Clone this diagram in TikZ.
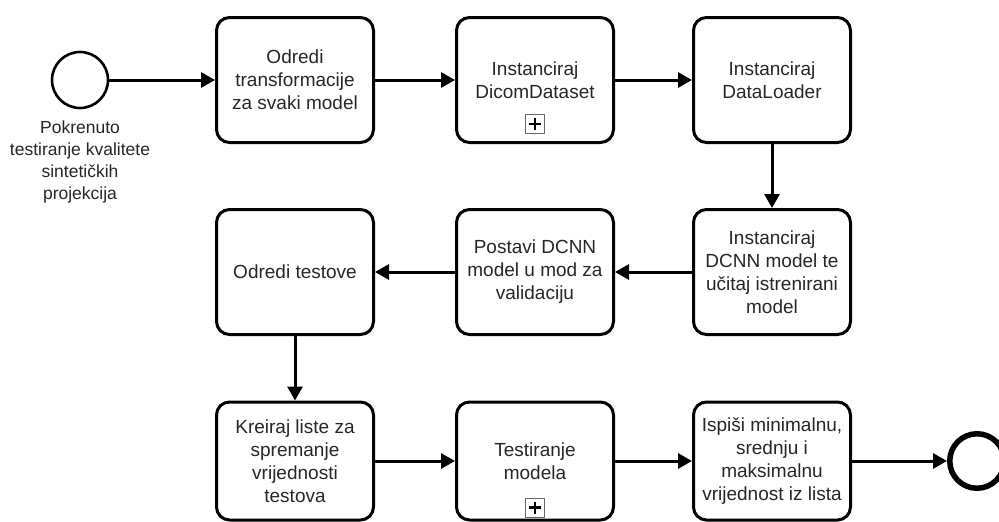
\documentclass[tikz,border=0pt]{standalone}
\usepackage{fontspec}
\setmainfont{Liberation Sans}
\usetikzlibrary{arrows.meta}

\newcommand{\tasktext}{\fontsize{19}{23}\selectfont}
\newcommand{\lbltext}{\fontsize{17.5}{21.7}\selectfont}

\tikzset{
  task/.style={draw,rectangle,rounded corners=13pt,line width=3pt,minimum width=157pt,minimum height=125pt,align=center,font=\tasktext,text=black!85,inner sep=2pt},
  flow/.style={-{Triangle[length=14pt,width=15pt]},line width=3pt},
  startev/.style={draw,circle,line width=2.6pt,minimum size=56pt,inner sep=0pt},
  endev/.style={draw,circle,line width=5.5pt,minimum size=54.5pt,inner sep=0pt},
  lbl/.style={align=center,font=\lbltext,text=black!85},
  subproc/.style={draw=black!60,line width=0.8pt,minimum size=19pt,inner sep=0pt,
    path picture={
      \draw[line width=2.4pt,black] ([xshift=-6pt]path picture bounding box.center) -- ([xshift=6pt]path picture bounding box.center);
      \draw[line width=2.4pt,black] ([yshift=-6pt]path picture bounding box.center) -- ([yshift=6pt]path picture bounding box.center);
    }}
}

\begin{document}
\begin{tikzpicture}[x=1pt,y=-1pt]
\useasboundingbox (0,0) rectangle (999,522);

% start
\node[startev] (st) at (80,80) {};
\node[lbl] (stl) at (80,162) {Pokrenuto\\testiranje kvalitete\\sintetičkih\\projekcija};

% row 1
\node[task] (t1) at (295,80) {Odredi\\transformacije\\za svaki model};
\node[task] (t2) at (535,80) {Instanciraj\\DicomDataset};
\node[task] (t3) at (772,80) {Instanciraj\\DataLoader};
\node[subproc] (p2) at ([yshift=20pt]t2.south) {};

% row 2
\node[task] (t4) at (772,272) {Instanciraj\\DCNN model te\\učitaj istrenirani\\model};
\node[task] (t5) at (535,272) {Postavi DCNN\\model u mod za\\validaciju};
\node[task] (t6) at (295,272) {Odredi testove};

% row 3
\node[task,minimum height=118pt] (t7) at (295,461) {Kreiraj liste za\\spremanje\\vrijednosti\\testova};
\node[task,minimum height=118pt] (t8) at (535,461) {Testiranje\\modela};
\node[task,minimum height=118pt] (t9) at (772,461) {Ispiši minimalnu,\\srednju i\\maksimalnu\\vrijednost iz lista};
\node[subproc] (p8) at ([yshift=14pt]t8.south) {};

% end
\node[endev] (en) at (977,461) {};

\draw[flow] (st) -- (t1);
\draw[flow] (t1) -- (t2);
\draw[flow] (t2) -- (t3);
\draw[flow] (t3) -- (t4);
\draw[flow] (t4) -- (t5);
\draw[flow] (t5) -- (t6);
\draw[flow] (t6) -- (t7);
\draw[flow] (t7) -- (t8);
\draw[flow] (t8) -- (t9);
\draw[flow] (t9) -- (en);
\end{tikzpicture}
\end{document}
